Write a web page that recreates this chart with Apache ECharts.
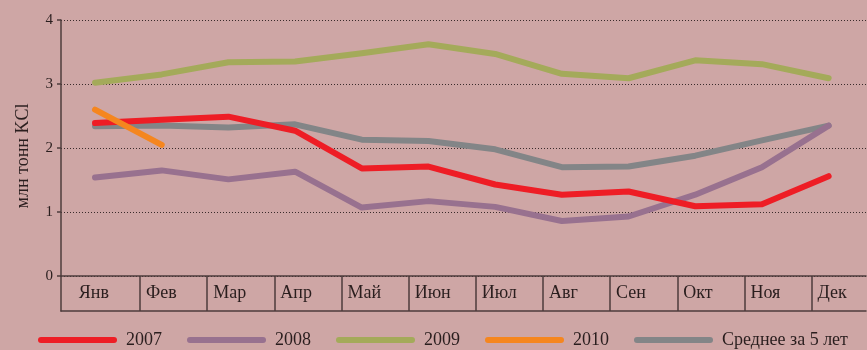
<!DOCTYPE html>
<html>
<head>
<meta charset="utf-8">
<script src="https://cdn.jsdelivr.net/npm/echarts@6/dist/echarts.min.js"></script>
<style>
  html, body { margin: 0; padding: 0; background: #cea6a5; }
  #chart { width: 867px; height: 350px; }
</style>
</head>
<body>
<div id="chart"></div>
<script>
// Месяцы и помесячные объёмы, млн тонн KCl
const months = ['Янв', 'Фев', 'Мар', 'Апр', 'Май', 'Июн', 'Июл', 'Авг', 'Сен', 'Окт', 'Ноя', 'Дек'];
const yTicks = [0, 1, 2, 3, 4];
const v2007 = [2.39, 2.44, 2.49, 2.27, 1.68, 1.71, 1.43, 1.27, 1.32, 1.09, 1.12, 1.56];
const v2008 = [1.54, 1.65, 1.51, 1.63, 1.07, 1.17, 1.08, 0.86, 0.93, 1.27, 1.70, 2.35];
const v2009 = [3.02, 3.15, 3.34, 3.35, 3.48, 3.62, 3.47, 3.16, 3.09, 3.37, 3.31, 3.09];
const v2010 = [2.60, 2.05];
const vAvg  = [2.34, 2.35, 2.32, 2.37, 2.13, 2.11, 1.98, 1.70, 1.71, 1.88, 2.12, 2.35];

const names = ['2007', '2008', '2009', '2010', 'Среднее за 5 лет'];
const colors = ['#ee1d25', '#98718f', '#a4aa5a', '#f5861f', '#838587'];

const FONT = '"Liberation Serif", "DejaVu Serif", serif';
const INK = '#2a1e1e';
const FRAME = '#4e3c3c';

const toPairs = arr => arr.map((v, i) => [i, v]);

const chart = echarts.init(document.getElementById('chart'), null, { renderer: 'canvas' });

const seriesValues = [v2007, v2008, v2009, v2010, vAvg];
const zOrder = [4, 3, 2, 5, 1];

const series = seriesValues.map((vals, k) => ({
  name: names[k],
  type: 'line',
  xAxisIndex: 0,
  yAxisIndex: 0,
  data: toPairs(vals),
  symbol: 'none',
  z: zOrder[k],
  lineStyle: { color: colors[k], width: 6, cap: 'round', join: 'round' },
  itemStyle: { color: colors[k] },
  emphasis: { disabled: true },
  silent: true,
  animation: false
}));

// Month table row under the plot: separators and left-aligned labels
const bandIdx = months.map((_, i) => i);
const sepIdx = months.slice(1).map((_, i) => i + 1);

chart.setOption({
  backgroundColor: '#cea6a5',
  animation: false,
  textStyle: { fontFamily: FONT, color: INK },
  legend: {
    data: names,
    left: 38,
    top: 331,
    width: 829,
    padding: 0,
    itemWidth: 79,
    itemHeight: 6,
    itemGap: 25,
    icon: 'path://M3,0 H76 A3,3 0 0 1 76,6 H3 A3,3 0 0 1 3,0 Z',
    textStyle: { fontFamily: FONT, fontSize: 18, color: INK, padding: [0, 0, 0, 4] },
    selectedMode: false
  },
  grid: [
    { left: 61, right: 1, top: 20, height: 256, containLabel: false },
    { left: 61, right: 1, top: 276, height: 35, containLabel: false }
  ],
  xAxis: [
    {
      gridIndex: 0,
      type: 'value',
      min: -0.51,
      max: 11.56,
      axisLine: { show: true, onZero: false, lineStyle: { color: FRAME, width: 1.5 } },
      axisTick: { show: false },
      axisLabel: { show: false },
      splitLine: { show: false }
    },
    {
      gridIndex: 1,
      type: 'value',
      position: 'bottom',
      min: -0.176,
      max: 11.81,
      axisLine: { show: true, onZero: false, lineStyle: { color: FRAME, width: 1.5 } },
      axisTick: {
        show: true,
        inside: true,
        length: 35,
        customValues: sepIdx,
        lineStyle: { color: FRAME, width: 1.5 }
      },
      axisLabel: {
        show: true,
        inside: true,
        margin: 18,
        customValues: bandIdx,
        align: 'left',
        verticalAlign: 'middle',
        padding: [0, 0, 0, 6],
        fontFamily: FONT,
        fontSize: 18,
        color: INK,
        formatter: v => months[Math.round(v)]
      },
      splitLine: { show: false }
    }
  ],
  yAxis: [
    {
      gridIndex: 0,
      type: 'value',
      min: yTicks[0],
      max: yTicks[yTicks.length - 1],
      interval: 1,
      name: 'млн тонн KCl',
      nameLocation: 'middle',
      nameRotate: 90,
      nameGap: 29,
      nameTextStyle: { fontFamily: FONT, fontSize: 18, color: INK, padding: [0, 16, 0, 0] },
      axisLine: { show: true, onZero: false, lineStyle: { color: FRAME, width: 1.5 } },
      axisTick: { show: true, length: 4, lineStyle: { color: FRAME, width: 1.5 } },
      axisLabel: { margin: 8, fontFamily: FONT, fontSize: 15, color: INK },
      splitLine: { show: true, lineStyle: { color: '#3a2b2b', width: 1, type: [1, 2] } }
    },
    {
      gridIndex: 1,
      type: 'value',
      min: 0,
      max: 1,
      axisLine: { show: true, onZero: false, lineStyle: { color: FRAME, width: 1.5 } },
      axisTick: { show: false },
      axisLabel: { show: false },
      splitLine: { show: false }
    }
  ],
  series: series
});
</script>
</body>
</html>
